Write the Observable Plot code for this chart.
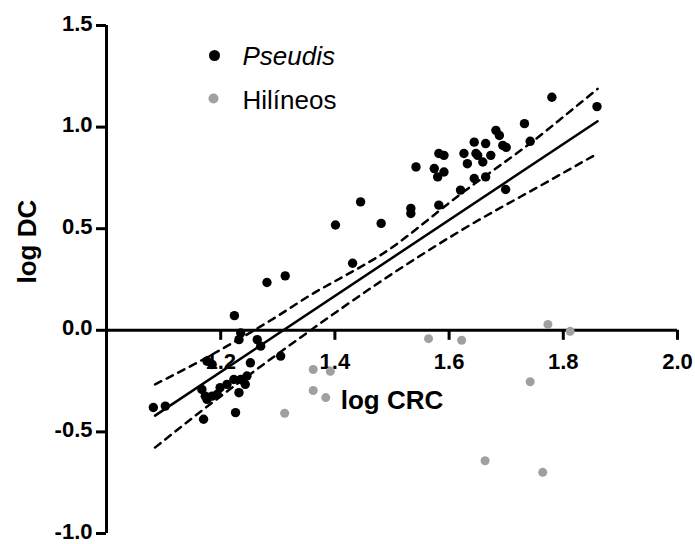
<!DOCTYPE html>
<html>
<head>
<meta charset="utf-8">
<script src="https://cdn.jsdelivr.net/npm/d3@7"></script>
<script src="https://cdn.jsdelivr.net/npm/@observablehq/plot@0.6"></script>
<style>
  body { margin: 0; background: white; }
</style>
</head>
<body>
<div id="chart"></div>
<script>
// Pseudis (black) : log CRC / log DC
const pseudisX = [1.859,1.780,1.732,1.742,1.699,1.682,1.688,1.694,1.664,1.673,1.650,1.659,1.644,1.664,1.644,1.626,1.647,1.632,1.582,1.591,1.542,1.574,1.591,1.580,1.620,1.582,1.533,1.533,1.481,1.445,1.401,1.431,1.313,1.281,1.224,1.235,1.232,1.264,1.270,1.252,1.305,1.176,1.185,1.211,1.199,1.223,1.235,1.246,1.243,1.167,1.173,1.185,1.194,1.232,1.176,1.082,1.103,1.226,1.170,1.700];
const pseudisY = [1.101,1.147,1.017,0.930,0.693,0.984,0.959,0.910,0.919,0.861,0.861,0.828,0.747,0.755,0.926,0.870,0.870,0.820,0.870,0.861,0.804,0.796,0.779,0.755,0.690,0.616,0.600,0.575,0.526,0.632,0.518,0.330,0.268,0.235,0.072,-0.013,-0.046,-0.046,-0.078,-0.160,-0.127,-0.152,-0.168,-0.266,-0.282,-0.242,-0.242,-0.225,-0.266,-0.291,-0.324,-0.324,-0.315,-0.307,-0.340,-0.380,-0.373,-0.405,-0.438,0.900];

// Hilíneos (grey)
const hilineosX = [1.773,1.812,1.564,1.622,1.362,1.392,1.362,1.384,1.312,1.742,1.663,1.764];
const hilineosY = [0.029,-0.005,-0.041,-0.049,-0.193,-0.202,-0.296,-0.331,-0.408,-0.253,-0.642,-0.699];

// Regression line and 95% band
const fitX = [1.085, 1.86];
const fitY = [-0.42, 1.029];
const upperX = [1.085,1.153,1.299,1.363,1.41,1.48,1.62,1.767,1.802,1.86];
const upperY = [-0.266,-0.168,0.069,0.183,0.257,0.37,0.67,0.975,1.055,1.188];
const lowerX = [1.085,1.170,1.343,1.404,1.48,1.62,1.778,1.819,1.86];
const lowerY = [-0.577,-0.389,-0.029,0.093,0.240,0.49,0.74,0.805,0.870];

const xTicks = [1.2, 1.4, 1.6, 1.8, 2.0];
const yTicks = [-1.0, -0.5, 0.0, 0.5, 1.0, 1.5];
const legendLabels = ["Pseudis", "Hilíneos"];
const xLabel = "log CRC";
const yLabel = "log DC";

const pseudis = pseudisX.map((x, i) => ({x, y: pseudisY[i]}));
const hilineos = hilineosX.map((x, i) => ({x, y: hilineosY[i]}));
const fit = fitX.map((x, i) => ({x, y: fitY[i]}));
const upper = upperX.map((x, i) => ({x, y: upperY[i]}));
const lower = lowerX.map((x, i) => ({x, y: lowerY[i]}));

const W = 695, H = 544, mL = 106, mR = 18, mT = 25, mB = 11;
const yPerPx = 2.5 / (H - mT - mB);
const xPerPx = 1 / (W - mL - mR);
const tickLen = 10;
const fmt = d => d.toFixed(1);
const font = "'Liberation Sans', Arial, Helvetica, sans-serif";

const chart = Plot.plot({
  width: W, height: H,
  marginLeft: mL, marginRight: mR, marginTop: mT, marginBottom: mB,
  x: {domain: [1, 2], axis: null},
  y: {domain: [-1, 1.5], axis: null},
  style: {fontFamily: font, background: "white", overflow: "visible"},
  marks: [
    // axes
    Plot.ruleX([1], {y1: -1, y2: 1.5, stroke: "black", strokeWidth: 3}),
    Plot.ruleY([0], {x1: 1, x2: 2, stroke: "black", strokeWidth: 3}),
    Plot.ruleY(yTicks, {y: d => d, x1: 1 - tickLen * xPerPx, x2: 1, stroke: "black", strokeWidth: 3}),
    Plot.ruleX(xTicks, {x: d => d, y1: 0, y2: -tickLen * yPerPx, stroke: "black", strokeWidth: 3}),
    Plot.text(yTicks, {x: 1, y: d => d, text: fmt, dx: -14, dy: -2, textAnchor: "end",
      fontSize: 22, fontWeight: "bold", fill: "black"}),
    Plot.text(xTicks, {x: d => d, y: 0, text: fmt, dy: 32,
      fontSize: 22, fontWeight: "bold", fill: "black"}),
    Plot.text([xLabel], {frameAnchor: "top", dy: 383, lineAnchor: "bottom",
      fontSize: 26, fontWeight: "bold", fill: "black"}),
    Plot.text([yLabel], {frameAnchor: "left", dx: -71, dy: 4, rotate: -90, lineAnchor: "bottom",
      fontSize: 26, fontWeight: "bold", fill: "black"}),
    // regression and band
    Plot.line(fit, {x: "x", y: "y", stroke: "black", strokeWidth: 2.5}),
    Plot.line(upper, {x: "x", y: "y", stroke: "black", strokeWidth: 2.5, strokeDasharray: "7,6", curve: "monotone-x"}),
    Plot.line(lower, {x: "x", y: "y", stroke: "black", strokeWidth: 2.5, strokeDasharray: "7,6", curve: "monotone-x"}),
    // data
    Plot.dot(hilineos, {x: "x", y: "y", r: 4.5, fill: "#a0a0a0", stroke: "none"}),
    Plot.dot(pseudis, {x: "x", y: "y", r: 4.7, fill: "black", stroke: "none"}),
    // legend
    Plot.dot([0], {frameAnchor: "top-left", dx: 108, dy: 30, r: 5.5, fill: "black", stroke: "none"}),
    Plot.dot([0], {frameAnchor: "top-left", dx: 107, dy: 73, r: 5, fill: "#a0a0a0", stroke: "none"}),
    Plot.text([legendLabels[0]], {frameAnchor: "top-left", dx: 136, dy: 39, lineAnchor: "bottom", textAnchor: "start",
      fontSize: 26, fontStyle: "italic", fill: "black"}),
    Plot.text([legendLabels[1]], {frameAnchor: "top-left", dx: 136, dy: 83, lineAnchor: "bottom", textAnchor: "start",
      fontSize: 26, fill: "black"})
  ]
});
document.getElementById("chart").appendChild(chart);
</script>
</body>
</html>
